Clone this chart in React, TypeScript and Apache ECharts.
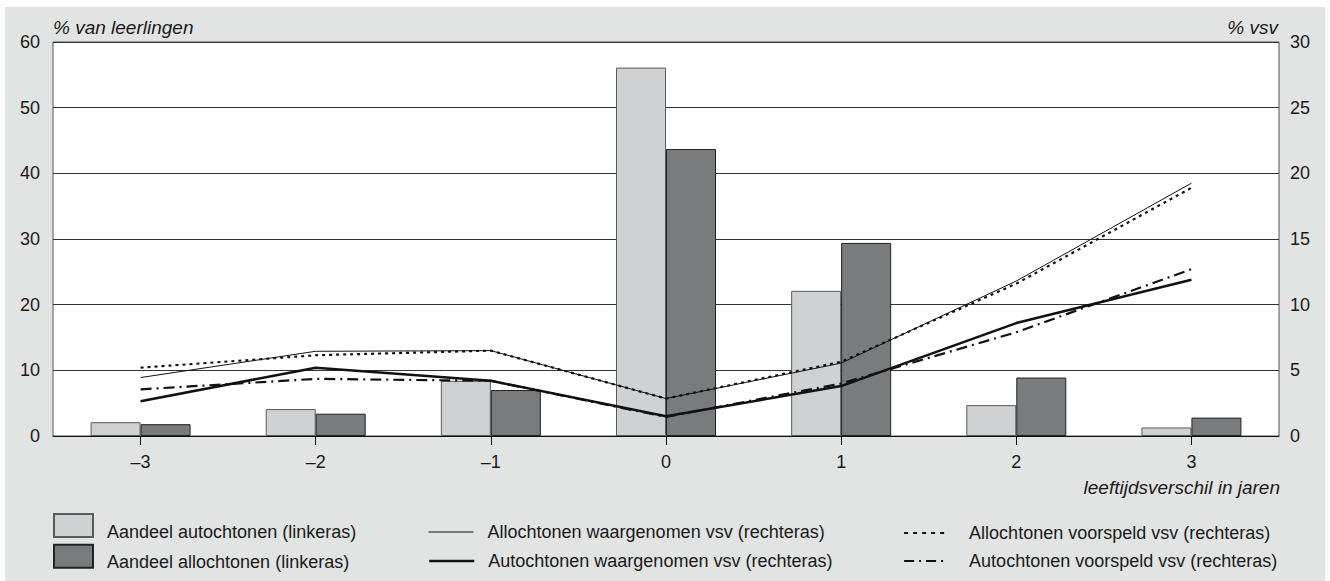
import React, { useEffect, useRef } from "react";
import * as echarts from "echarts";

const categories = ["–3", "–2", "–1", "0", "1", "2", "3"];
const aandeelAutochtonen = [2.1, 4.1, 8.4, 56.1, 22.1, 4.7, 1.3];
const aandeelAllochtonen = [1.8, 3.4, 7.0, 43.7, 29.4, 8.9, 2.8];
const allochtonenWaargenomen = [4.45, 6.45, 6.5, 2.85, 5.55, 11.8, 19.25];
const allochtonenVoorspeld = [5.2, 6.15, 6.5, 2.85, 5.65, 11.6, 18.9];
const autochtonenWaargenomen = [2.65, 5.2, 4.2, 1.5, 3.8, 8.6, 11.9];
const autochtonenVoorspeld = [3.55, 4.35, 4.2, 1.45, 4.0, 7.9, 12.7];

const leftTicks = { min: 0, max: 60, interval: 10 };
const rightTicks = { min: 0, max: 30, interval: 5 };

const names = {
  aut: "Aandeel autochtonen (linkeras)",
  allo: "Aandeel allochtonen (linkeras)",
  alloW: "Allochtonen waargenomen vsv (rechteras)",
  autW: "Autochtonen waargenomen vsv (rechteras)",
  alloV: "Allochtonen voorspeld vsv (rechteras)",
  autV: "Autochtonen voorspeld vsv (rechteras)",
};

const FONT = "'Liberation Sans', Arial, Helvetica, sans-serif";
const TXT = "#1a1a1a";

export default function App() {
  const ref = useRef<HTMLDivElement>(null);
  useEffect(() => {
    if (!ref.current) return;
    const chart = echarts.init(ref.current, null, { renderer: "svg" });
    const legendText = (padTop: number, padLeft: number) => ({
      fontSize: 18,
      fontFamily: FONT,
      color: TXT,
      rich: {
        t: {
          fontSize: 18,
          fontFamily: FONT,
          color: TXT,
          lineHeight: 20,
          padding: [padTop, 0, 0, padLeft],
        },
      },
    });
    const barLegend = (name: string, top: number) => ({
      show: true,
      data: [{ name, icon: "rect" }],
      left: 53,
      top,
      padding: 0,
      itemWidth: 39,
      itemHeight: 23,
      selectedMode: false,
      formatter: "{t|{name}}",
      textStyle: legendText(12, 9),
    });
    const lineLegend = (
      name: string,
      left: number,
      top: number,
      gap: number,
      w: number,
      lw: number,
      type: any
    ) => ({
      show: true,
      data: [name],
      left,
      top,
      padding: 0,
      itemWidth: w,
      itemHeight: 20,
      selectedMode: false,
      itemStyle: { opacity: 0 },
      lineStyle: { width: lw, type, color: "#111" },
      formatter: "{t|{name}}",
      textStyle: legendText(0, gap),
    });
    const lineSeries = (name: string, data: number[], width: number, type: any) => ({
      name,
      type: "line",
      yAxisIndex: 1,
      data,
      symbol: "none",
      showSymbol: false,
      lineStyle: { color: "#111", width, type },
      itemStyle: { color: "#111" },
      z: 5,
    });
    chart.setOption({
      animation: false,
      backgroundColor: "transparent",
      textStyle: { fontFamily: FONT },
      grid: {
        left: 53,
        right: 51,
        top: 42,
        bottom: 145,
        show: true,
        backgroundColor: "#ffffff",
        borderColor: "#555",
        borderWidth: 1,
      },
      legend: [
        barLegend(names.aut, 510.5),
        barLegend(names.allo, 541.2),
        lineLegend(names.alloW, 428, 523, 9, 45, 1, "solid"),
        lineLegend(names.autW, 428, 552, 9, 45, 2.5, "solid"),
        lineLegend(names.alloV, 903, 524, 16, 44, 2.2, [4, 5]),
        lineLegend(names.autV, 903, 552, 16, 44, 2.2, [10, 5, 2, 5]),
      ],
      xAxis: {
        type: "category",
        data: categories,
        boundaryGap: true,
        axisLine: { show: true, lineStyle: { color: "#111", width: 1 } },
        axisTick: { show: true, alignWithLabel: true, length: 9, lineStyle: { color: "#111" } },
        axisLabel: { fontSize: 18, color: TXT, margin: 17, fontFamily: FONT },
        splitLine: { show: false },
        z: 10,
      },
      yAxis: [
        {
          type: "value",
          ...leftTicks,
          axisLine: { show: false },
          axisTick: { show: false },
          axisLabel: { fontSize: 18, color: TXT, margin: 13, fontFamily: FONT },
          splitLine: { show: true, lineStyle: { color: "#333", width: 1 } },
        },
        {
          type: "value",
          ...rightTicks,
          position: "right",
          axisLine: { show: false },
          axisTick: { show: false },
          axisLabel: { fontSize: 18, color: TXT, margin: 11, fontFamily: FONT },
          splitLine: { show: false },
        },
      ],
      series: [
        {
          name: names.aut,
          type: "bar",
          data: aandeelAutochtonen,
          barWidth: 50,
          barGap: "0%",
          itemStyle: { color: "#d0d1d3", borderColor: "#5a5a5a", borderWidth: 1 },
          z: 2,
        },
        {
          name: names.allo,
          type: "bar",
          data: aandeelAllochtonen,
          barWidth: 50,
          barGap: "0%",
          itemStyle: { color: "#7a7b7d", borderColor: "#222", borderWidth: 1 },
          z: 2,
        },
        lineSeries(names.alloW, allochtonenWaargenomen, 1, "solid"),
        lineSeries(names.autW, autochtonenWaargenomen, 2.5, "solid"),
        lineSeries(names.alloV, allochtonenVoorspeld, 2.2, [3, 4]),
        lineSeries(names.autV, autochtonenVoorspeld, 2.2, [11, 5, 2, 5]),
      ],
      graphic: [
        {
          type: "text",
          left: 53,
          top: 18,
          style: { text: "% van leerlingen", fontSize: 19, fontStyle: "italic", fontFamily: FONT, fill: TXT },
        },
        {
          type: "text",
          right: 52,
          top: 18,
          style: { text: "% vsv", fontSize: 19, fontStyle: "italic", fontFamily: FONT, fill: TXT },
        },
        {
          type: "text",
          right: 50,
          top: 478,
          style: { text: "leeftijdsverschil in jaren", fontSize: 19, fontStyle: "italic", fontFamily: FONT, fill: TXT },
        },
      ],
    });
    return () => chart.dispose();
  }, []);
  return (
    <div style={{ position: "fixed", left: 0, top: 0, width: 1330, height: 581, background: "#fff" }}>
      <div style={{ position: "absolute", left: 5, top: 7, width: 1320, height: 574, background: "#e2e3e3" }} />
      <div ref={ref} style={{ position: "absolute", left: 0, top: 0, width: 1330, height: 581 }} />
    </div>
  );
}
